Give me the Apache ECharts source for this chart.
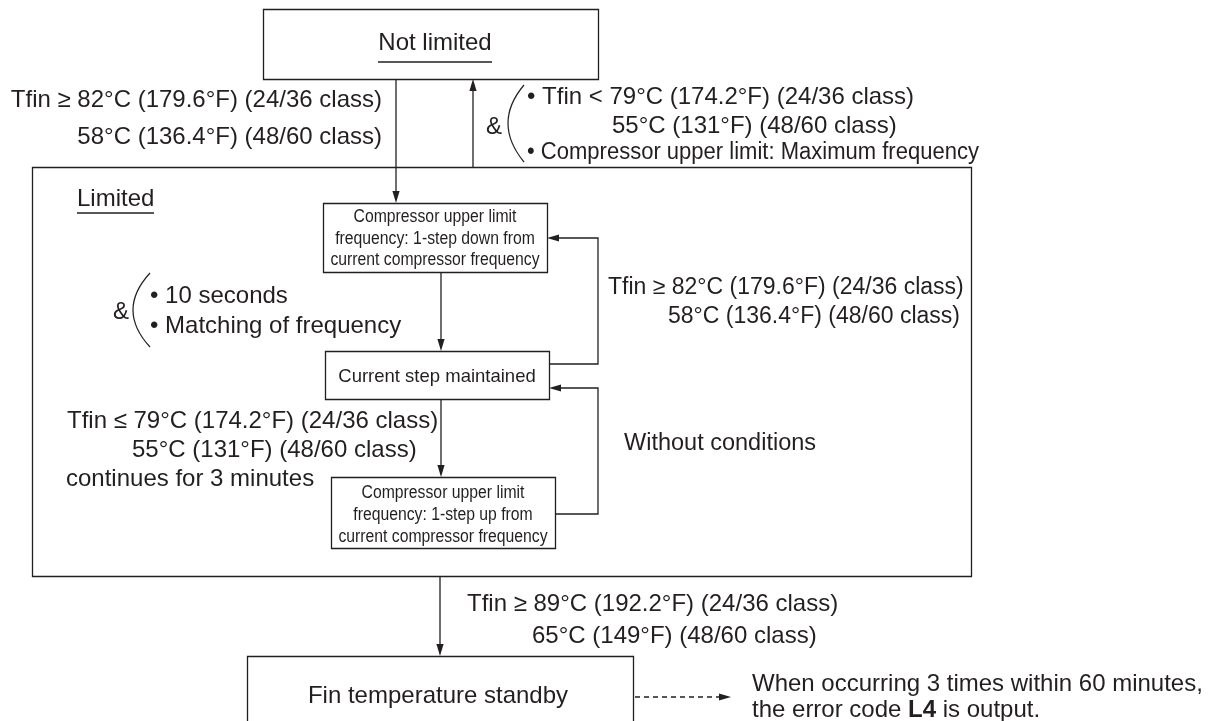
<!DOCTYPE html>
<html><head><meta charset="utf-8">
<script src="https://cdn.jsdelivr.net/npm/echarts@6/dist/echarts.min.js"></script>
<style>html,body{margin:0;padding:0;background:#fff}#c{width:1213px;height:721px}</style>
</head><body><div id="c"></div>
<script>
// ---- content (texts of the flow chart) ----
const stateLabels = ['Not limited', 'Limited'];
const stepLabels = [
  'Compressor upper limit\nfrequency: 1-step down from\ncurrent compressor frequency',
  'Current step maintained',
  'Compressor upper limit\nfrequency: 1-step up from\ncurrent compressor frequency',
  'Fin temperature standby'
];
const conditionLabels = [
  'Tfin ≥ 82°C (179.6°F) (24/36 class)',
  '58°C (136.4°F) (48/60 class)',
  '&',
  '• Tfin < 79°C (174.2°F) (24/36 class)',
  '55°C (131°F) (48/60 class)',
  '• Compressor upper limit: Maximum frequency',
  '&',
  '• 10 seconds',
  '• Matching of frequency',
  'Tfin ≥ 82°C (179.6°F) (24/36 class)',
  '58°C (136.4°F) (48/60 class)',
  'Tfin ≤ 79°C (174.2°F) (24/36 class)',
  '55°C (131°F) (48/60 class)',
  'continues for 3 minutes',
  'Without conditions',
  'Tfin ≥ 89°C (192.2°F) (24/36 class)',
  '65°C (149°F) (48/60 class)',
  'When occurring 3 times within 60 minutes,'
];
const noteParts = ['the error code ', 'L4', ' is output.'];

// ---- layout (page coordinates on hidden axes) ----
const W = 1213, H = 721;
const INK = '#231f20';
const FONT = "'Liberation Sans', Arial, Helvetica, sans-serif";
// [x1, y1, x2, y2]
const containerRect = [32, 167, 971, 576];
const stateRect = [263, 9, 598, 79];
const stepRects = [[323, 203, 547, 272], [325, 351, 549, 399], [331, 477, 555, 548], [247, 656, 633, 780]];
// label anchor [x, y, align, fontSize, scaleX, lineHeight]
const stateLabelPos = [[435, 43, 'center', 24], [77, 199, 'left', 24]];
const underlines = [[[378, 62], [492, 62]], [[77, 213], [154, 213]]];
const stepLabelPos = [[435, 239, 'center', 18, 0.875, 21.5], [437, 377, 'center', 18.5, 1, 20], [443, 515, 'center', 18, 0.875, 22], [438, 696, 'center', 24]];
const conditionPos = [
  [382, 100, 'right', 24], [382, 137, 'right', 24], [494, 127, 'center', 24],
  [527, 97, 'left', 24], [612, 126, 'left', 24], [527, 153, 'left', 23.5, 0.937],
  [121, 312, 'center', 24], [150, 296, 'left', 24], [150, 326, 'left', 24],
  [608, 288, 'left', 23], [960, 317, 'right', 23],
  [67, 421, 'left', 24], [132, 450, 'left', 24], [66, 479, 'left', 24],
  [624, 444, 'left', 23.5],
  [467, 604, 'left', 24], [532, 636, 'left', 24],
  [752, 684, 'left', 24]
];
const notePos = [752, 710];
// brace curves: [x1, y1, x2, y2, cpx, cpy]
const braces = [[524, 85, 524, 162, 492, 123], [150, 273, 150, 347, 116, 310]];
// connector polylines (last point = arrow tip)
const arrows = [
  [[396, 79], [396, 203]],
  [[473, 167], [473, 79]],
  [[441, 272], [441, 351]],
  [[549, 364], [598, 364], [598, 238], [547, 238]],
  [[441, 399], [441, 477]],
  [[555, 514], [598, 514], [598, 388], [549, 388]],
  [[440, 576], [440, 656]]
];
const dashedArrows = [[[635, 697], [731, 697]]];

function rectSeries(rects, z, fill) {
  return {
    type: 'custom', coordinateSystem: 'cartesian2d', z: z, silent: true,
    data: rects.map(r => [r[0], r[1], r[2], r[3]]),
    renderItem(params, api) {
      const p1 = api.coord([api.value(0), api.value(1)]);
      const p2 = api.coord([api.value(2), api.value(3)]);
      return { type: 'rect', shape: { x: Math.round(p1[0]) + 0.5, y: Math.round(p1[1]) + 0.5, width: Math.round(p2[0] - p1[0]), height: Math.round(p2[1] - p1[1]) },
        style: { fill: fill, stroke: INK, lineWidth: 1.3 } };
    }
  };
}
function textSeries(texts, pos, z) {
  return {
    type: 'custom', coordinateSystem: 'cartesian2d', z: z, silent: true,
    data: pos.map(p => [p[0], p[1]]),
    renderItem(params, api) {
      const i = params.dataIndex, L = pos[i];
      const p = api.coord([api.value(0), api.value(1)]);
      return { type: 'text', x: p[0], y: p[1], scaleX: L[4] || 1,
        style: { text: texts[i], fill: INK, fontSize: L[3], fontFamily: FONT,
          align: L[2], verticalAlign: 'middle', lineHeight: L[5] || L[3] * 1.2 } };
    }
  };
}
function arrowSeries(list, dash, z) {
  return {
    type: 'custom', coordinateSystem: 'cartesian2d', z: z, silent: true,
    data: list.map(a => [a[0][0], a[0][1]]),
    renderItem(params, api) {
      const pts = list[params.dataIndex].map(p => api.coord(p));
      const n = pts.length, a = pts[n - 2], b = pts[n - 1];
      const dx = b[0] - a[0], dy = b[1] - a[1], len = Math.hypot(dx, dy);
      const ux = dx / len, uy = dy / len, HL = 12, HW = 3.6;
      const base = [b[0] - ux * HL, b[1] - uy * HL];
      const head = [[b[0], b[1]], [base[0] - uy * HW, base[1] + ux * HW], [base[0] + uy * HW, base[1] - ux * HW]];
      const linePts = pts.slice(0, n - 1).concat([[b[0] - ux * (HL - 2), b[1] - uy * (HL - 2)]]);
      return { type: 'group', children: [
        { type: 'polyline', shape: { points: linePts }, style: { stroke: INK, lineWidth: 1.3, fill: null, lineDash: dash } },
        { type: 'polygon', shape: { points: head }, style: { fill: INK, stroke: null } }
      ] };
    }
  };
}

const chart = echarts.init(document.getElementById('c'), null, { renderer: 'canvas' });
chart.setOption({
  backgroundColor: '#fff',
  animation: false,
  grid: { left: 0, right: 0, top: 0, bottom: 0 },
  xAxis: { type: 'value', min: 0, max: W, show: false },
  yAxis: { type: 'value', min: 0, max: H, inverse: true, show: false },
  series: [
    rectSeries([containerRect], 1, 'none'),
    rectSeries([stateRect].concat(stepRects), 2, '#fff'),
    arrowSeries(arrows, null, 3),
    arrowSeries(dashedArrows, [5, 4], 3),
    {
      type: 'lines', coordinateSystem: 'cartesian2d', z: 3, silent: true,
      symbol: 'none', lineStyle: { color: INK, width: 1.5, opacity: 1 },
      data: underlines.map(c => ({ coords: c }))
    },
    {
      type: 'custom', coordinateSystem: 'cartesian2d', z: 3, silent: true,
      data: braces.map(b => b.slice()),
      renderItem(params, api) {
        const a = api.coord([api.value(0), api.value(1)]);
        const b = api.coord([api.value(2), api.value(3)]);
        const c = api.coord([api.value(4), api.value(5)]);
        return { type: 'bezierCurve', shape: { x1: a[0], y1: a[1], x2: b[0], y2: b[1], cpx1: c[0], cpy1: c[1] },
          style: { stroke: INK, lineWidth: 1.2, fill: null } };
      }
    },
    textSeries(stateLabels, stateLabelPos, 4),
    textSeries(stepLabels, stepLabelPos, 4),
    textSeries(conditionLabels, conditionPos, 4),
    {
      type: 'custom', coordinateSystem: 'cartesian2d', z: 4, silent: true,
      data: [notePos],
      renderItem(params, api) {
        const p = api.coord([api.value(0), api.value(1)]);
        return { type: 'text', x: p[0], y: p[1],
          style: { text: '{n|' + noteParts[0] + '}{b|' + noteParts[1] + '}{n|' + noteParts[2] + '}',
            align: 'left', verticalAlign: 'middle',
            rich: { n: { fill: INK, fontSize: 24, fontFamily: FONT }, b: { fill: INK, fontSize: 24, fontFamily: FONT, fontWeight: 'bold' } } } };
      }
    }
  ]
});
</script></body></html>
